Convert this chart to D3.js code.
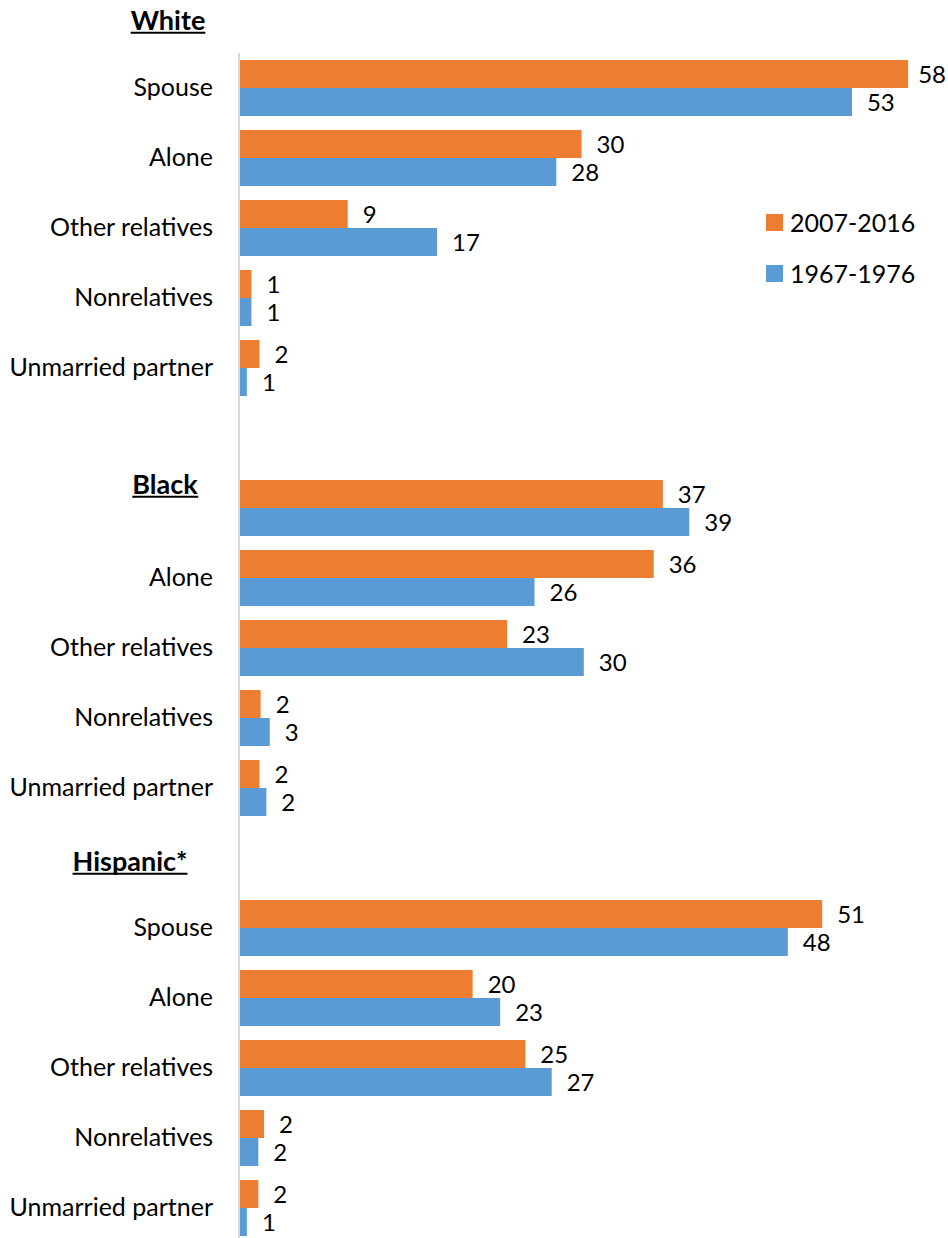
<!DOCTYPE html>
<html>
<head>
<meta charset="utf-8">
<script src="https://cdn.jsdelivr.net/npm/d3@7"></script>
<style>
  html, body { margin: 0; padding: 0; background: #fff; }
  svg { display: block; font-family: Lato, "Open Sans", sans-serif; }
</style>
</head>
<body>
<svg id="chart" width="948" height="1238"></svg>
<script>
// ---- data ----
const groups = ["White", "Black", "Hispanic*"];
const categories = ["Spouse", "Alone", "Other relatives", "Nonrelatives", "Unmarried partner"];
const seriesNames = ["2007-2016", "1967-1976"];
// values per group, in category order
const recent = {
  "White":     [58.3, 29.8, 9.4, 1.0, 1.7],
  "Black":     [36.9, 36.1, 23.3, 1.8, 1.7],
  "Hispanic*": [50.8, 20.3, 24.9, 2.1, 1.6]
};
const earlier = {
  "White":     [53.4, 27.6, 17.2, 1.0, 0.6],
  "Black":     [39.2, 25.7, 30.0, 2.6, 2.3],
  "Hispanic*": [47.8, 22.7, 27.2, 1.6, 0.6]
};
const colors = ["#ED7D31", "#5B9BD5"];

// ---- layout ----
const svg = d3.select("#chart");
const W = 948;
const x0 = 240;
const pxPerUnit = 11.46;
const x = d3.scaleLinear().domain([0, 60]).range([x0, x0 + 60 * pxPerUnit]);

// rows: group blocks separated by blank rows
const rows = [];
groups.forEach((g, gi) => {
  if (gi > 0) rows.push({ key: "blank" + gi, blank: true });
  categories.forEach((c, ci) => rows.push({ key: g + "|" + c, group: g, cat: c, ci }));
});
const y = d3.scaleBand()
  .domain(rows.map(r => r.key))
  .range([53, 1243])
  .paddingInner(0.2)
  .paddingOuter(0.1);
const ySub = d3.scaleBand().domain([0, 1]).range([0, y.bandwidth()]);

// axis line
svg.append("line")
  .attr("x1", x0 - 1).attr("x2", x0 - 1)
  .attr("y1", 53).attr("y2", 1243)
  .attr("stroke", "#d9d9d9").attr("stroke-width", 2);

const dataRows = rows.filter(r => !r.blank);

// bars + labels
dataRows.forEach(r => {
  const vals = [recent[r.group][r.ci], earlier[r.group][r.ci]];
  vals.forEach((v, si) => {
    const yy = y(r.key) + ySub(si);
    svg.append("rect")
      .attr("x", x(0)).attr("y", yy)
      .attr("width", x(v) - x(0)).attr("height", ySub.bandwidth())
      .attr("fill", colors[si]);
    const t = svg.append("text")
      .attr("x", x(v) + 15)
      .attr("y", yy + ySub.bandwidth() / 2)
      .attr("dy", "0.36em")
      .attr("font-size", 24)
      .attr("fill", "#000")
      .text(d3.format(".0f")(v));
    const len = t.node().getComputedTextLength();
    if (x(v) + 15 + len > W - 2) t.attr("x", W - 2 - len);
  });
  // category label (Black's first label is covered by the group title)
  if (!(r.group === "Black" && r.ci === 0)) {
    svg.append("text")
      .attr("x", 213)
      .attr("y", y(r.key) + y.bandwidth() / 2 - 1)
      .attr("dy", "0.36em")
      .attr("text-anchor", "end")
      .attr("font-size", 25)
      .attr("fill", "#000")
      .text(r.cat);
  }
});

// group titles
const titlePos = {
  "White": { x: 168, y: y(rows[0].key) - y.step() + y.bandwidth() / 2 + 2 },
  "Black": { x: 165, y: 484 },
  "Hispanic*": { x: 130, y: y("blank2") + y.bandwidth() / 2 + 3 }
};
groups.forEach(g => {
  const p = titlePos[g];
  const t = svg.append("text")
    .attr("x", p.x).attr("y", p.y)
    .attr("dy", "0.36em")
    .attr("text-anchor", "middle")
    .attr("font-size", 27)
    .attr("font-weight", "bold")
    .attr("fill", "#000")
    .text(g);
  const bb = t.node().getBBox();
  svg.append("line")
    .attr("x1", bb.x).attr("x2", bb.x + bb.width)
    .attr("y1", p.y + 0.36 * 27 + 3).attr("y2", p.y + 0.36 * 27 + 3)
    .attr("stroke", "#000").attr("stroke-width", 2);
});

// legend
const legend = svg.append("g").attr("transform", "translate(766,214)");
seriesNames.forEach((s, i) => {
  const g = legend.append("g").attr("transform", `translate(0,${i * 51})`);
  g.append("rect").attr("width", 17).attr("height", 17).attr("fill", colors[i]);
  g.append("text")
    .attr("x", 24).attr("y", 8.5).attr("dy", "0.36em")
    .attr("font-size", 25).attr("fill", "#000")
    .text(s);
});
</script>
</body>
</html>
